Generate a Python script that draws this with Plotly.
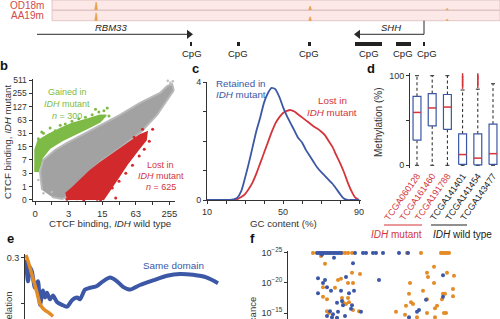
import plotly.graph_objects as go

W, H = 500, 319
FONT = "Liberation Sans, Arial, Helvetica, sans-serif"
BLUE = "#3b57a6"
RED = "#d3353b"
ORANGE = "#e38b26"
GREEN = "#7dbb46"
GREY = "#a2a2a2"
INK = "#333333"

# ---------------- panel a : genome tracks ----------------
track_names = ["OD18m", "AA19m"]
track_top = [0.0, 10.5]
track_bottom = [10.0, 20.7]
track_span = [52, 500]
peak_pos = [96, 310, 447]
peak_height = [8, 4, 1.5]
rbm33_span = [37, 192]
shh_span = [424, 355]
cpg_start = [190.0, 237, 308, 355, 396, 423]
cpg_end = [191.8, 240, 311, 382, 411, 425]
cpg_label_x = [192, 238, 309, 369, 403, 427]

# ---------------- panel b : CTCF binding scatter (log2(x+1) units) -------
b_ticks = [0, 1, 3, 7, 15, 31, 63, 127, 255, 511]
grey_x = [0.42, 0.30, 0.48, 1.19, 1.90, 3.10, 3.87, 5.06, 6.25, 7.44, 7.86, 8.15,
          8.27, 7.74, 7.26, 6.31, 5.06, 3.87, 3.27, 2.56, 2.08, 1.61, 1.01]
grey_y = [0.75, 2.10, 3.00, 3.75, 4.28, 5.10, 5.63, 6.38, 7.28, 8.03, 8.55, 8.70,
          8.25, 7.28, 6.38, 5.10, 3.90, 2.85, 2.10, 1.13, 0.30, 0.08, 0.23]
gain_x = [0.0, 0.0, 0.18, 0.77, 1.49, 2.20, 3.10, 3.87, 4.23, 3.87, 3.15, 2.38,
          1.61, 0.89, 0.42, 0.18]
gain_y = [2.10, 3.75, 4.45, 4.90, 5.35, 5.75, 6.05, 6.35, 6.35, 5.85, 5.40, 4.95,
          4.45, 3.90, 3.15, 2.10]
lost_x = [1.96, 1.85, 2.20, 2.68, 3.27, 3.87, 4.46, 5.06, 5.65, 6.25, 6.67, 6.61,
          6.13, 5.54, 4.94, 4.35, 4.05]
lost_y = [0.0, 0.53, 0.90, 1.50, 2.18, 2.78, 3.30, 3.83, 4.35, 4.88, 5.10, 4.50,
          3.75, 2.78, 1.65, 0.60, 0.0]
gain_pts_x = [0.05, 0.1, 0.2, 0.35, 0.5, 0.7, 0.9, 1.2, 1.5, 1.8, 2.2, 2.6, 3.0,
              3.4, 3.8, 4.1, 4.4, 0.15, 0.4, 3.6, 4.3]
gain_pts_y = [2.4, 3.3, 4.6, 4.0, 5.0, 4.7, 5.4, 5.2, 5.6, 5.7, 5.9, 6.1, 6.2,
              6.4, 6.6, 6.7, 6.3, 2.9, 5.1, 6.8, 6.9]
lost_pts_x = [1.9, 2.1, 2.5, 2.9, 3.3, 3.7, 4.2, 4.6, 5.0, 5.4, 5.8, 6.2, 6.5,
              6.8, 7.0, 6.4, 5.9, 4.8, 3.9, 3.2]
lost_pts_y = [0.05, 0.6, 0.1, 0.0, 0.3, 0.05, 0.4, 0.9, 1.4, 2.0, 2.6, 3.3, 3.8,
              4.4, 5.3, 5.3, 4.7, 0.15, 0.0, 1.0]
grey_pts_x = [0.2, 0.5, 1.0, 8.2, 7.9, 0.3, 8.05]
grey_pts_y = [1.5, 0.5, 0.6, 8.9, 8.95, 2.6, 8.8]

# ---------------- panel c : GC content densities ----------------
gc = [10, 20, 22, 24, 26, 28, 30, 32, 34, 36, 38, 40, 42, 44, 46, 48, 50, 52, 54,
      56, 58, 60, 62, 64, 66, 68, 70, 72, 74, 76, 78, 80, 82, 84, 86, 88, 90]
retained = [0, 0, 0, 0.02, 0.08, 0.3, 0.75, 1.25, 1.8, 2.35, 2.8, 3.3, 3.62, 3.8,
            3.75, 3.5, 3.15, 2.85, 2.6, 2.35, 2.1, 1.95, 1.7, 1.5, 1.3, 1.1, 0.95,
            0.82, 0.68, 0.55, 0.38, 0.2, 0.05, 0, 0, 0, 0]
lost = [0, 0, 0, 0, 0.03, 0.1, 0.2, 0.38, 0.6, 0.9, 1.25, 1.6, 1.95, 2.3, 2.6,
        2.8, 2.95, 3.02, 3.05, 3.0, 2.9, 2.8, 2.7, 2.6, 2.5, 2.42, 2.32, 2.2, 2.0,
        1.8, 1.52, 1.25, 0.95, 0.6, 0.3, 0.08, 0]

# ---------------- panel d : methylation boxes ----------------
samples = ["TCGA060128", "TCGA161460", "TCGA191788",
           "TCGA141401", "TCGA141454", "TCGA143477"]
mutant = [True, True, True, False, False, False]
q1 = [28, 44, 40, 1, 0.5, 1]
med = [59, 64, 65, 12, 8, 13]
q3 = [77, 80, 79, 35, 35, 46]
lo = [0, 0, 0, 0, 0, 0]
hi = [100, 100, 100, 84, 85, 91]
outlier_box = [4, 4, 4, 4, 4, 5, 5, 5, 5, 5]
outlier_val = [88, 91, 94, 97, 100, 89, 92, 95, 98, 100]

# ---------------- panel e : correlation vs distance ----------------
e_orange_x = [0.5, 2, 4, 6, 7.5, 9.5, 11.5, 14]
e_orange_y = [0.306, 0.286, 0.255, 0.224, 0.200, 0.188, 0.182, 0.173]
e_blue_x = [0.5, 1.5, 2.5, 3.5, 5, 6.5, 7.5, 9, 10, 11, 12.5, 14, 16, 18.5, 21,
            23.5, 26, 27.5, 30, 32.5, 36, 39, 42.5, 46, 49, 52.5, 57.5, 64, 71,
            77.5, 84, 91, 96.5]
e_blue_y = [0.296, 0.249, 0.280, 0.269, 0.235, 0.249, 0.198, 0.229, 0.214, 0.224,
            0.210, 0.218, 0.204, 0.198, 0.194, 0.208, 0.214, 0.210, 0.231, 0.235,
            0.239, 0.249, 0.257, 0.249, 0.237, 0.231, 0.241, 0.251, 0.261, 0.265,
            0.263, 0.257, 0.245]

# ---------------- panel f : significance (log10 P) ----------------
f_blue_x = [29, 31, 33, 35, 37, 39, 41, 43, 45, 47, 49, 51, 53, 67, 75, 78, 85, 88,
            95, 111, 120,
            34, 46, 65, 30, 37, 35, 39, 43, 30, 53, 58, 61, 66, 91, 54, 49, 55, 64,
            42, 50, 45, 73, 39, 44, 57, 63, 155, 155, 138, 131, 129, 121, 49]
f_blue_p = [-25] * 21 + [
    -24.7, -24.2, -23.3, -20.8, -20.5, -20.0, -19.3, -18.7, -18.3, -18.7, -21.0,
    -18.3, -18.7, -20.5, -17.0, -16.7, -16.3, -16.3, -15.3, -15.2, -14.8, -15.2,
    -14.5, -14.3, -14.5, -15.7, -21.3, -17.7, -17.2, -15.5, -15.2, -14.3, -14.2]
f_orange_x = [25, 54, 57, 60, 64, 119, 133, 153, 155, 157, 159, 161,
              33, 37, 50, 53, 64, 72, 60, 65, 35, 47, 35, 39, 54, 60, 55, 61, 58,
              39, 41, 65, 71, 108, 122, 121, 123, 125, 118, 135, 139, 140, 139, 146,
              146, 154, 155, 157, 159, 165, 165, 166, 149, 147, 156, 158, 139, 117,
              129, 147]
f_orange_p = [-25] * 12 + [
    -24.5, -23.2, -20.5, -20.7, -21.7, -21.5, -20.0, -20.0, -19.3, -19.2, -17.7,
    -17.3, -17.5, -17.5, -16.8, -16.8, -16.5, -15.3, -15.0, -15.5, -15.3, -15.2,
    -20.0, -18.2, -16.8, -16.5, -16.2, -18.7, -17.3, -21.0, -21.7, -22.7, -20.0,
    -17.3, -18.2, -18.2, -21.7, -19.0, -17.8, -21.2, -16.2, -15.8, -15.0, -15.0,
    -15.0, -14.7, -14.3, -14.3]


def dx(a, b):
    return [a / W, b / W]


def dy(top, bot):
    return [1 - bot / H, 1 - top / H]


fig = go.Figure()

# ---- panel a traces
for nm, t, b in zip(track_names, track_top, track_bottom):
    fig.add_shape(type="rect", xref="x", yref="y", x0=track_span[0], x1=track_span[1],
                  y0=t, y1=b, fillcolor="#fbe8e7", line=dict(color="#dcbcbc", width=0.8),
                  layer="below")
for t, b in zip(track_top, track_bottom):
    px_, py_ = [], []
    for p, h in zip(peak_pos, peak_height):
        px_ += [p - 1.3, p - 0.7, p, p + 0.7, p + 1.3, None]
        py_ += [b, b - 0.8 * h, b - h, b - 0.8 * h, b, None]
    fig.add_trace(go.Scatter(x=px_, y=py_, xaxis="x", yaxis="y", mode="lines",
                             fill="toself", fillcolor="#e9a04a",
                             line=dict(color="#e9a04a", width=0.6), hoverinfo="skip"))
gene_y = 34.3
fig.add_trace(go.Scatter(x=[rbm33_span[0], rbm33_span[1] - 4], y=[gene_y, gene_y],
                         xaxis="x", yaxis="y", mode="lines",
                         line=dict(color="#2a2a2a", width=1)))
fig.add_trace(go.Scatter(x=[shh_span[0], shh_span[0], shh_span[1] + 4],
                         y=[track_bottom[1], gene_y, gene_y],
                         xaxis="x", yaxis="y", mode="lines",
                         line=dict(color="#2a2a2a", width=1)))
fig.add_trace(go.Scatter(x=[rbm33_span[1] - 3, shh_span[1] + 3], y=[gene_y, gene_y],
                         xaxis="x", yaxis="y", mode="markers",
                         marker=dict(symbol=["triangle-right", "triangle-left"], size=8,
                                     color="#2a2a2a", line=dict(width=0))))
fig.add_trace(go.Bar(base=cpg_start, x=[e - s for s, e in zip(cpg_start, cpg_end)],
                     y=[43.6] * len(cpg_start), width=4, orientation="h",
                     xaxis="x", yaxis="y", marker=dict(color="#222222", line=dict(width=0))))

# ---- panel b traces
fig.add_trace(go.Scatter(x=grey_x, y=grey_y, xaxis="x2", yaxis="y2", mode="lines",
                         fill="toself", fillcolor=GREY, line=dict(color="#b8b8b8", width=2)))
fig.add_trace(go.Scatter(x=grey_pts_x, y=grey_pts_y, xaxis="x2", yaxis="y2",
                         mode="markers", marker=dict(color="#bdbdbd", size=2.5)))
fig.add_trace(go.Scatter(x=gain_x, y=gain_y, xaxis="x2", yaxis="y2", mode="lines",
                         fill="toself", fillcolor=GREEN, line=dict(color=GREEN, width=1.5)))
fig.add_trace(go.Scatter(x=gain_pts_x, y=gain_pts_y, xaxis="x2", yaxis="y2",
                         mode="markers", marker=dict(color=GREEN, size=3)))
fig.add_trace(go.Scatter(x=lost_x, y=lost_y, xaxis="x2", yaxis="y2", mode="lines",
                         fill="toself", fillcolor="#d22a2c", line=dict(color="#d22a2c", width=1.5)))
fig.add_trace(go.Scatter(x=lost_pts_x, y=lost_pts_y, xaxis="x2", yaxis="y2",
                         mode="markers", marker=dict(color="#d22a2c", size=3)))

# ---- panel c traces
fig.add_trace(go.Scatter(x=gc, y=lost, xaxis="x3", yaxis="y3", mode="lines",
                         line=dict(color=RED, width=1.8, shape="spline", smoothing=0.6)))
fig.add_trace(go.Scatter(x=gc, y=retained, xaxis="x3", yaxis="y3", mode="lines",
                         line=dict(color=BLUE, width=1.8, shape="spline", smoothing=0.6)))

# ---- panel d traces
hw, cw = 0.26, 0.13
wx, wy, cx, cy, bx, by, mx, my = [], [], [], [], [], [], [], []
for i in range(len(samples)):
    c = i + 1
    wx += [c, c, None, c, c, None]
    wy += [q3[i], hi[i], None, q1[i], lo[i], None]
    cx += [c - cw, c + cw, None, c - cw, c + cw, None]
    cy += [hi[i], hi[i], None, lo[i], lo[i], None]
    bx += [c - hw, c + hw, c + hw, c - hw, c - hw, None]
    by += [q1[i], q1[i], q3[i], q3[i], q1[i], None]
    mx += [c - hw, c + hw, None]
    my += [med[i], med[i], None]
fig.add_trace(go.Scatter(x=wx, y=wy, xaxis="x4", yaxis="y4", mode="lines",
                         line=dict(color="#222", width=1, dash="3px,2.5px")))
fig.add_trace(go.Scatter(x=cx, y=cy, xaxis="x4", yaxis="y4", mode="lines",
                         line=dict(color="#222", width=1)))
fig.add_trace(go.Scatter(x=bx, y=by, xaxis="x4", yaxis="y4", mode="lines",
                         fill="toself", fillcolor="white", line=dict(color=BLUE, width=1.2)))
fig.add_trace(go.Scatter(x=mx, y=my, xaxis="x4", yaxis="y4", mode="lines",
                         line=dict(color=RED, width=1.5)))
fig.add_trace(go.Scatter(x=outlier_box, y=outlier_val, xaxis="x4", yaxis="y4",
                         mode="markers",
                         marker=dict(symbol="line-ns", size=3.5, color=RED,
                                     line=dict(color=RED, width=1.5))))

# ---- panel e traces
fig.add_trace(go.Scatter(x=e_blue_x, y=e_blue_y, xaxis="x5", yaxis="y5", mode="lines",
                         line=dict(color=BLUE, width=4, shape="spline", smoothing=0.7)))
fig.add_trace(go.Scatter(x=e_orange_x, y=e_orange_y, xaxis="x5", yaxis="y5", mode="lines",
                         line=dict(color=ORANGE, width=3.5, shape="spline", smoothing=0.7)))

# ---- panel f traces
fig.add_trace(go.Scatter(x=f_orange_x, y=f_orange_p, xaxis="x6", yaxis="y6",
                         mode="markers", marker=dict(color=ORANGE, size=4)))
fig.add_trace(go.Scatter(x=f_blue_x, y=f_blue_p, xaxis="x6", yaxis="y6",
                         mode="markers", marker=dict(color=BLUE, size=4)))

# ---- axes
ax_common = dict(showline=True, linecolor=INK, linewidth=1, ticks="outside",
                 ticklen=3, tickwidth=1, tickcolor=INK, showgrid=False, zeroline=False,
                 automargin=False,
                 tickfont=dict(size=9, color=INK, family=FONT))

tick_text_d = []
for s, m in zip(samples, mutant):
    col = RED if m else "#222222"
    tick_text_d.append(f"<span style='color:{col}'>{s}</span>")

fig.update_layout(
    width=W, height=H, margin=dict(l=0, r=0, t=0, b=0, pad=0, autoexpand=False),
    paper_bgcolor="white", plot_bgcolor="white", showlegend=False,
    font=dict(family=FONT, color=INK, size=9),
    bargap=0,
    xaxis=dict(domain=[0, 1], range=[0, 500], visible=False, anchor="y", automargin=False),
    yaxis=dict(domain=dy(0, 60), range=[60, 0], visible=False, anchor="x", automargin=False),
    xaxis2=dict(domain=dx(32.5, 174.5), range=[-0.15, 8.3], anchor="y2",
                tickvals=list(range(9)),
                ticktext=[str(b_ticks[i]) if i % 2 == 0 else "" for i in range(9)],
                **{**ax_common, "tickfont": dict(size=9.5, color=INK, family=FONT)}),
    yaxis2=dict(domain=dy(78.7, 201.3), range=[-0.1, 9.1], anchor="x2",
                tickvals=list(range(10)), ticktext=[str(v) for v in b_ticks],
                **{**ax_common, "tickfont": dict(size=8.5, color=INK, family=FONT)}),
    xaxis3=dict(domain=dx(207, 361), range=[10, 91], anchor="y3",
                tickvals=list(range(10, 91, 10)),
                ticktext=["10", "", "", "", "50", "", "", "", "90"], **ax_common),
    yaxis3=dict(domain=dy(82, 200), range=[0, 4], anchor="x3",
                tickvals=[0, 1, 2, 3, 4], ticktext=["0", "", "", "", "4"], **ax_common),
    xaxis4=dict(domain=dx(410, 500), range=[0.54, 6.46], anchor="y4",
                showline=False, ticks="", showgrid=False, zeroline=False, automargin=False,
                tickvals=[1, 2, 3, 4, 5, 6], ticktext=tick_text_d, tickangle=-55,
                tickfont=dict(size=9, family=FONT)),
    yaxis4=dict(domain=dy(73, 168), range=[-3, 103], anchor="x4",
                tickvals=[0, 50, 100], ticktext=["0", "", "100"], **ax_common),
    xaxis5=dict(domain=dx(25, 230), range=[0, 102.5], anchor="y5", visible=False,
                automargin=False),
    yaxis5=dict(domain=dy(254, 319), range=[0.1673, 0.3082], anchor="x5",
                tickvals=[0.2, 0.3], ticktext=["", "0.3"], **ax_common),
    xaxis6=dict(domain=dx(288, 500), range=[0, 212], anchor="y6", visible=False,
                automargin=False),
    yaxis6=dict(domain=dy(251, 319), range=[-14.0, -25.33], anchor="x6",
                tickvals=[-25, -20, -15],
                ticktext=["10<sup>−25</sup>", "10<sup>−20</sup>", "10<sup>−15</sup>"],
                **ax_common),
)

anns = []


def pann(px, py, text, size=9.5, color=INK, xanchor="center", **kw):
    anns.append(dict(x=px / W, y=1 - py / H, xref="paper", yref="paper", text=text,
                     showarrow=False, xanchor=xanchor, yanchor="middle",
                     font=dict(size=size, color=color, family=FONT), **kw))


# panel a texts
for nm, t, b in zip(track_names, track_top, track_bottom):
    anns.append(dict(x=46, y=(t + b) / 2, xref="x", yref="y", text=nm, showarrow=False,
                     xanchor="right", font=dict(size=10, color="#d24a4a", family=FONT)))
anns.append(dict(x=111, y=27.5, xref="x", yref="y", text="<i>RBM33</i>", showarrow=False,
                 font=dict(size=9.5, color="#222", family=FONT)))
anns.append(dict(x=391, y=27.5, xref="x", yref="y", text="<i>SHH</i>", showarrow=False,
                 font=dict(size=9.5, color="#222", family=FONT)))
for lx in cpg_label_x:
    anns.append(dict(x=lx, y=53, xref="x", yref="y", text="CpG", showarrow=False,
                     font=dict(size=9.5, color="#222", family=FONT)))

# panel letters
for letter, px, py in [("b", 4, 65), ("c", 195, 68), ("d", 371, 68), ("e", 10, 238),
                       ("f", 252, 238)]:
    pann(px, py, f"<b>{letter}</b>", size=13, color="#111")

# panel b
pann(7, 142, "CTCF binding, <i>IDH</i> mutant", size=9.7, textangle=-90)
pann(110, 223, "CTCF binding, <i>IDH</i> wild type", size=9.7)
for txt, py in [("Gained in", 92), ("<i>IDH</i> mutant", 104), ("<i>n</i> = 300", 116)]:
    pann(67, py, txt, size=9, color=GREEN)
for txt, py in [("Lost in", 165), ("<i>IDH</i> mutant", 176), ("<i>n</i> = 625", 187)]:
    pann(160.5, py, txt, size=9, color=RED)

# panel c
pann(214, 83, "Retained in", size=9.8, color=BLUE, xanchor="left")
pann(214, 94, "<i>IDH</i> mutant", size=9.8, color=BLUE, xanchor="left")
pann(332, 100, "Lost in", size=9.8, color=RED)
pann(332, 112, "<i>IDH</i> mutant", size=9.8, color=RED)
pann(283, 223, "GC content (%)", size=9.7)

# panel d
pann(378, 123, "Methylation (%)", size=10, textangle=-90)
pann(396, 234, "<i>IDH</i> mutant", size=10, color=RED)
pann(431, 234, "<i>IDH</i> wild type", size=10, color="#222", xanchor="left")
fig.add_shape(type="line", xref="paper", yref="paper", x0=384 / W, x1=422 / W,
              y0=1 - 225 / H, y1=1 - 225 / H, line=dict(color=RED, width=1.2))
fig.add_shape(type="line", xref="paper", yref="paper", x0=431 / W, x1=467 / W,
              y0=1 - 225 / H, y1=1 - 225 / H, line=dict(color="#222", width=1.2))

# panel e
pann(173, 265, "Same domain", size=9.9, color=BLUE)
pann(8, 315, "Correlation", size=9.5, textangle=-90)

# panel f
pann(252, 323, "Significance", size=9.5, textangle=-90)

fig.update_layout(annotations=anns)
fig.write_html("out.html", config={"displayModeBar": False},
               post_script="document.body.style.margin='0';"
                           "document.body.style.overflow='hidden';")
